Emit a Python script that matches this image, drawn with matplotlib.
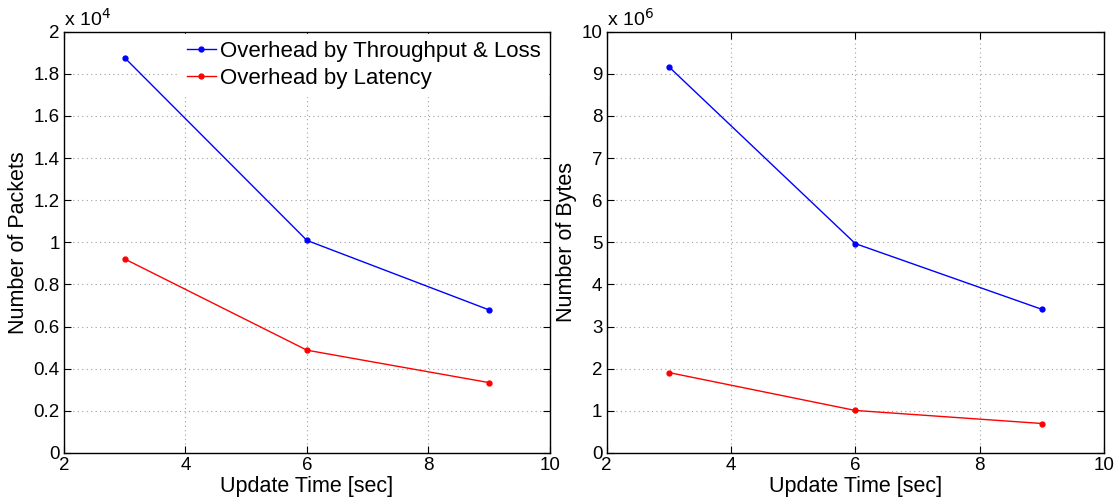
import matplotlib
matplotlib.use("Agg")
import matplotlib.pyplot as plt
from matplotlib.ticker import FuncFormatter, MultipleLocator

plt.rcParams['font.family'] = ['Liberation Sans', 'DejaVu Sans']

# data
update_time = [3, 6, 9]
packets_tl = [18760, 10090, 6790]      # Overhead by Throughput & Loss
packets_lat = [9210, 4880, 3340]       # Overhead by Latency
bytes_tl = [9.17e6, 4.97e6, 3.41e6]
bytes_lat = [1.91e6, 1.01e6, 0.70e6]

labels = ['Overhead by Throughput & Loss', 'Overhead by Latency']

fig = plt.figure(figsize=(11.18, 5.04), dpi=100)
ax1 = fig.add_axes([0.0572, 0.1012, 0.4347, 0.836])
ax2 = fig.add_axes([0.5425, 0.1012, 0.4450, 0.836])


def style_axes(ax, scale, ymax, ystep, exp):
    ax.set_xlim(2, 10)
    ax.set_ylim(0, ymax)
    ax.xaxis.set_major_locator(MultipleLocator(2))
    ax.yaxis.set_major_locator(MultipleLocator(ystep))
    ax.yaxis.set_major_formatter(FuncFormatter(lambda v, p: f'{v / scale:g}'))
    ax.grid(True, color='#a0a0a0', linestyle=(0, (1, 3)), linewidth=0.8)
    ax.tick_params(direction='in', top=True, right=True, labelsize=13.5, length=5, pad=3)
    for s in ax.spines.values():
        s.set_linewidth(1.0)
    ax.set_xlabel('Update Time [sec]', fontsize=15.5, labelpad=1)
    ax.set_ylabel(ax.get_ylabel(), fontsize=15.5, labelpad=3)
    ax.text(0.0, 1.005, r'x 10$^{%d}$' % exp, transform=ax.transAxes,
            fontsize=14, ha='left', va='bottom')


# Left: packets
ax1.plot(update_time, packets_tl, '-o', color='#0000ff', lw=1.0, ms=3.5, label=labels[0])
ax1.plot(update_time, packets_lat, '-o', color='#ff0000', lw=1.0, ms=3.5, label=labels[1])
ax1.set_ylabel('Number of Packets')
style_axes(ax1, 1e4, 20000, 2000, 4)
leg = ax1.legend(loc='upper right', fontsize=16, frameon=True, fancybox=False,
                 edgecolor='white', framealpha=1, borderaxespad=0.1,
                 handlelength=1.3, handletextpad=0.2, labelspacing=0.3, borderpad=0.3)

# Right: bytes
ax2.plot(update_time, bytes_tl, '-o', color='#0000ff', lw=1.0, ms=3.5)
ax2.plot(update_time, bytes_lat, '-o', color='#ff0000', lw=1.0, ms=3.5)
ax2.set_ylabel('Number of Bytes')
style_axes(ax2, 1e6, 1e7, 1e6, 6)

fig.savefig('out.png', dpi=100)
